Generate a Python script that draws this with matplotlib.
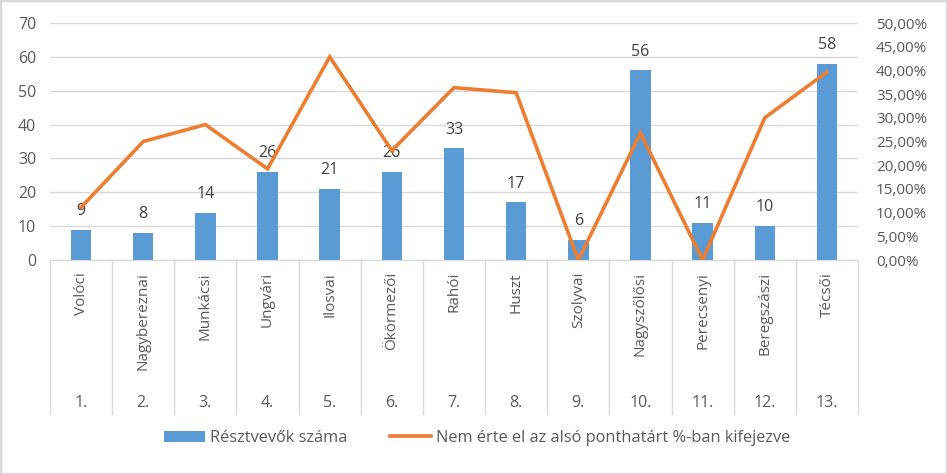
import numpy as np
import matplotlib
matplotlib.use("Agg")
import matplotlib.pyplot as plt
from matplotlib.patches import Rectangle
from matplotlib.ticker import FuncFormatter
import matplotlib.transforms as mtransforms

plt.rcParams['font.family'] = ['Open Sans', 'DejaVu Sans']

# adatok
jarasok = ["Volóci", "Nagybereznai", "Munkácsi", "Ungvári", "Ilosvai", "Ökörmezői",
           "Rahói", "Huszt", "Szolyvai", "Nagyszőlősi", "Perecsenyi", "Beregszászi", "Técsői"]
sorszam = ["1.", "2.", "3.", "4.", "5.", "6.", "7.", "8.", "9.", "10.", "11.", "12.", "13."]
resztvevok = [9, 8, 14, 26, 21, 26, 33, 17, 6, 56, 11, 10, 58]
nem_erte_el = [0.1111, 0.25, 0.2857, 0.1923, 0.4286, 0.2308, 0.3636, 0.3529,
               0.0, 0.2679, 0.0, 0.30, 0.3966]

KEK = '#5B9BD5'
NARANCS = '#ED7D31'
SZURKE = '#595959'
RACS = '#D9D9D9'

W, H = 947, 474
fig = plt.figure(figsize=(W / 100, H / 100), dpi=100)
ax = fig.add_axes([50 / W, (H - 260) / H, 808 / W, 237 / H])
ax2 = ax.twinx()

x = np.arange(len(jarasok))
bars = ax.bar(x, resztvevok, width=0.33, color=KEK, zorder=2, label='Résztvevők száma')
ax.set_xlim(-0.5, len(jarasok) - 0.5)
ax.set_ylim(0, 70)
ax.set_yticks(range(0, 71, 10))
ax.yaxis.grid(True, color=RACS, linewidth=1, zorder=0)
ax.set_axisbelow(True)
ax.tick_params(axis='y', length=0, labelsize=11.5, labelcolor=SZURKE, pad=10)
ax.set_xticks([])
for s in ['top', 'left', 'right']:
    ax.spines[s].set_visible(False)
ax.spines['bottom'].set_color(RACS)

for xi, v in zip(x, resztvevok):
    ax.annotate(str(v), (xi, v), xytext=(0, 13.5), textcoords='offset points',
                ha='center', va='center', fontsize=11.5, color='#404040')

ln, = ax2.plot(x, nem_erte_el, color=NARANCS, linewidth=2.6, solid_joinstyle='miter',
               label='Nem érte el az alsó ponthatárt %-ban kifejezve', zorder=3)
ax2.set_ylim(0, 0.5)
ax2.set_yticks(np.arange(0, 0.501, 0.05))
ax2.yaxis.set_major_formatter(FuncFormatter(lambda v, p: f"{v * 100:.2f}%".replace('.', ',')))
ax2.tick_params(axis='y', length=0, labelsize=11, labelcolor=SZURKE, pad=13)
for s in ax2.spines.values():
    s.set_visible(False)

# kategória tengely: elválasztók és feliratok
trans = mtransforms.blended_transform_factory(ax.transData, ax.transAxes)
alja = -(414 - 260) / 237
for i in range(len(jarasok) + 1):
    ax.plot([i - 0.5, i - 0.5], [0, alja], transform=trans, color=RACS,
            linewidth=1, clip_on=False)
for xi, nev, sz in zip(x, jarasok, sorszam):
    ax.text(xi, -(272 - 260) / 237, nev, transform=trans, rotation=90,
            ha='center', va='top', fontsize=11, color=SZURKE)
    ax.text(xi, -(403 - 260) / 237, sz, transform=trans,
            ha='center', va='center', fontsize=11.5, color=SZURKE)

fig.legend(handles=[bars, ln], loc='center', bbox_to_anchor=(477 / W, 1 - 438 / H),
           ncol=2, frameon=False, fontsize=11.8, labelcolor=SZURKE,
           handlelength=2.5, handletextpad=0.3, columnspacing=2.6)

fig.patches.append(Rectangle((0, 0), 1, 1, transform=fig.transFigure, fill=False,
                             edgecolor=RACS, linewidth=2.5))

fig.savefig('out.png', dpi=100)
